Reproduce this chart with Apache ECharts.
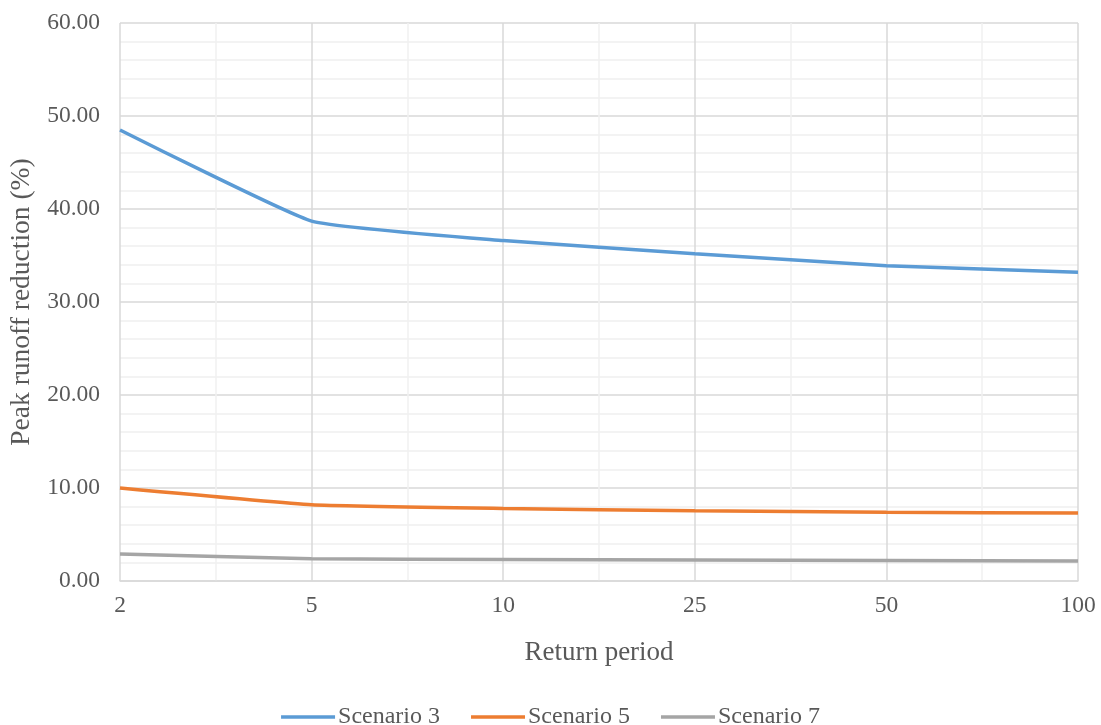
<!DOCTYPE html>
<html><head><meta charset="utf-8">
<script src="https://cdn.jsdelivr.net/npm/echarts@6/dist/echarts.min.js"></script>
<style>html,body{margin:0;padding:0;background:#fff}#c{width:1101px;height:725px}</style>
</head><body><div id="c"></div>
<script>
const categories = ['2', '5', '10', '25', '50', '100'];
const scenario3 = [48.5, 38.7, 36.6, 35.2, 33.9, 33.2];
const scenario5 = [10.0, 8.2, 7.8, 7.55, 7.4, 7.3];
const scenario7 = [2.9, 2.4, 2.3, 2.25, 2.2, 2.15];
const seriesNames = ['Scenario 3', 'Scenario 5', 'Scenario 7'];
const colors = ['#5b9bd5', '#ed7d31', '#a5a5a5'];

const font = 'Liberation Serif, Times New Roman, serif';
const chart = echarts.init(document.getElementById('c'), null, {renderer: 'canvas'});
const mk = (name, data, color) => ({
  name, type: 'line', data, xAxisIndex: 0, yAxisIndex: 0,
  symbol: 'none', smooth: 0.12, lineStyle: {color, width: 3.5}, itemStyle: {color}, z: 5
});
chart.setOption({
  animation: false,
  backgroundColor: '#fff',
  textStyle: {fontFamily: font},
  grid: {left: 120, right: 23, top: 23, bottom: 144, containLabel: false, outerBoundsMode: 'none'},
  legend: {
    data: seriesNames, top: 700, left: 'center', itemWidth: 54, itemHeight: 3.5, itemGap: 31,
    icon: 'rect',
    textStyle: {fontFamily: font, fontSize: 24, color: '#595959', padding: [0, 0, 0, -2]}
  },
  xAxis: [{
    type: 'category', data: categories, boundaryGap: false,
    name: 'Return period', nameLocation: 'middle', nameGap: 58,
    nameTextStyle: {fontFamily: font, fontSize: 27, color: '#595959'},
    axisLine: {lineStyle: {color: '#d9d9d9', width: 1.5}},
    axisTick: {show: false},
    axisLabel: {fontFamily: font, fontSize: 23.5, color: '#595959', margin: 13},
    splitLine: {show: true, lineStyle: {color: '#d9d9d9', width: 1.5}},
    z: 3
  }, {
    type: 'value', min: 0, max: 10, interval: 1, show: true,
    axisLine: {show: false}, axisTick: {show: false}, axisLabel: {show: false},
    splitLine: {show: true, lineStyle: {color: ['rgba(0,0,0,0)', '#f0f0f0'], width: 1.5}},
    z: 1
  }],
  yAxis: {
    type: 'value', min: 0, max: 60, interval: 10,
    name: 'Peak runoff reduction (%)', nameLocation: 'middle', nameGap: 77,
    nameTextStyle: {fontFamily: font, fontSize: 27.5, color: '#595959'},
    axisLine: {show: false}, axisTick: {show: false},
    axisLabel: {fontFamily: font, fontSize: 23.5, color: '#595959', margin: 20,
      formatter: v => v.toFixed(2)},
    splitLine: {show: true, lineStyle: {color: '#d9d9d9', width: 1.5}},
    minorTick: {show: false, splitNumber: 5},
    minorSplitLine: {show: true, lineStyle: {color: '#f0f0f0', width: 1.5}}
  },
  series: [
    mk(seriesNames[0], scenario3, colors[0]),
    mk(seriesNames[1], scenario5, colors[1]),
    mk(seriesNames[2], scenario7, colors[2])
  ]
});
</script></body></html>
